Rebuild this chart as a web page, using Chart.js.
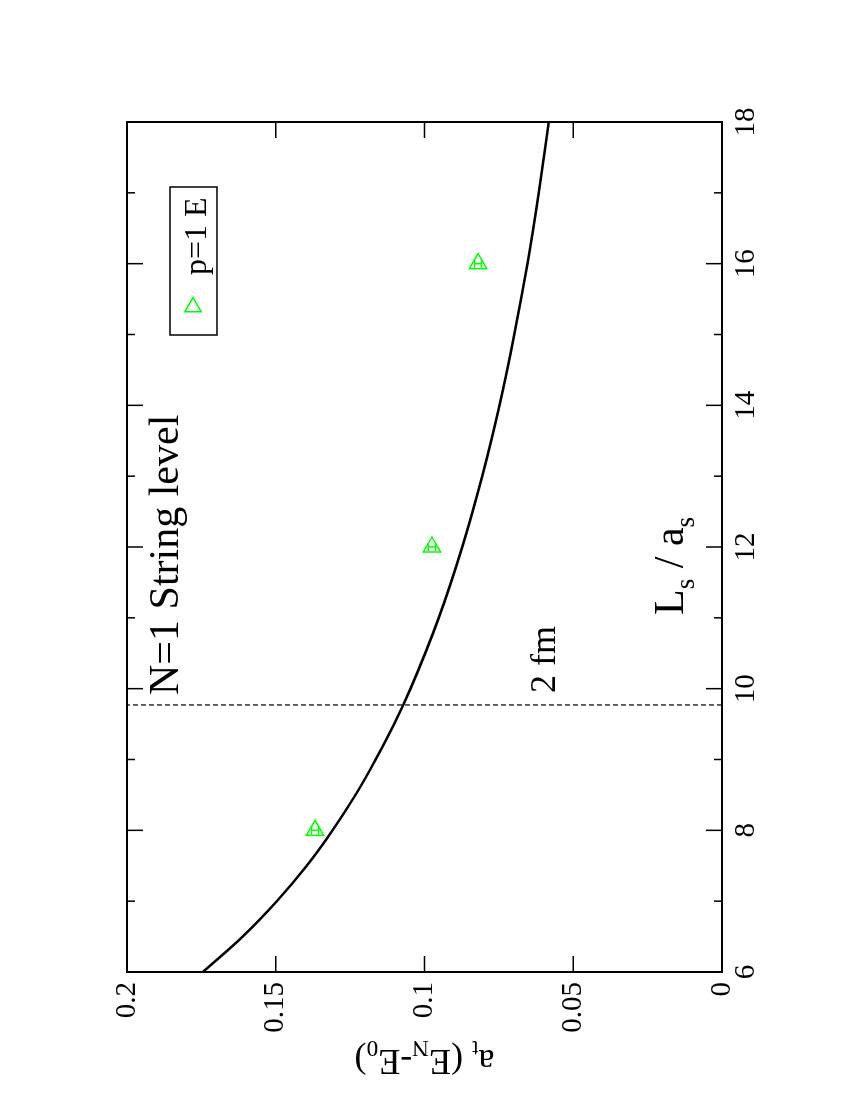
<!DOCTYPE html>
<html><head><meta charset="utf-8">
<script src="https://cdn.jsdelivr.net/npm/chart.js@4.4.1/dist/chart.umd.min.js"></script>
<style>
html,body{margin:0;padding:0;background:#fff;width:850px;height:1100px;overflow:hidden;font-family:'Liberation Serif',serif}
#wrap{position:absolute;left:0;top:1100px;width:1100px;height:850px;transform-origin:0 0;transform:rotate(-90deg)}
.pre{position:absolute;left:-9999px;top:0;font-family:'Liberation Serif';font-size:28px}
</style></head><body>
<span class="pre">0.15 N=1 String level</span>
<div id="wrap"><canvas id="c" width="1100" height="850"></canvas></div>
<script>
// fitted curve
const curveL = [6, 6.5, 7, 7.5, 8, 8.5, 9, 9.5, 10, 11, 12, 13, 14, 15, 16, 17, 18];
const curveE = [0.1745, 0.1611, 0.1496, 0.1396, 0.1309, 0.1232, 0.1164, 0.1102, 0.1047, 0.0952, 0.0873, 0.0806, 0.0748, 0.0698, 0.0654, 0.0616, 0.0582];
// data points p=1 E
const dataL = [8, 12, 16];
const dataE = [0.1368, 0.0975, 0.0820];
const dataErr = [0.0012, 0.0012, 0.0012];
// 2 fm marker line
const lineL = [9.77, 9.77];
const lineE = [0, 0.2];
// ticks
const xMajor = [6, 8, 10, 12, 14, 16, 18];
const xMinor = [7, 9, 11, 13, 15, 17];
const yMajor = [0, 0.05, 0.1, 0.15, 0.2];
const yTickLabels = ['0', '0.05', '0.1', '0.15', '0.2'];
const seriesLabel = 'p=1 E';

const SERIF = "'Liberation Serif', 'Times New Roman', serif";
const GREEN = '#00ff00';

function drawRich(ctx, parts, x, y, size) {
  let cx = x;
  parts.forEach(([t, m]) => {
    const fs = m ? size * 0.65 : size;
    ctx.font = fs + 'px ' + SERIF;
    ctx.fillText(t, cx, y + (m ? size * 0.25 : 0));
    cx += ctx.measureText(t).width;
  });
  return cx - x;
}
function richWidth(ctx, parts, size) {
  let w = 0;
  parts.forEach(([t, m]) => {
    ctx.font = (m ? size * 0.65 : size) + 'px ' + SERIF;
    w += ctx.measureText(t).width;
  });
  return w;
}

const deco = {
  id: 'deco',
  afterDatasetsDraw(chart) {
    const { ctx, chartArea: a, scales: { x, y } } = chart;
    ctx.save();
    // error bars
    ctx.strokeStyle = GREEN; ctx.lineWidth = 1.5;
    dataL.forEach((L, i) => {
      const px = x.getPixelForValue(L);
      const y1 = y.getPixelForValue(dataE[i] - dataErr[i]);
      const y2 = y.getPixelForValue(dataE[i] + dataErr[i]);
      ctx.beginPath();
      ctx.moveTo(px, y1); ctx.lineTo(px, y2);
      ctx.moveTo(px - 4, y1); ctx.lineTo(px + 4, y1);
      ctx.moveTo(px - 4, y2); ctx.lineTo(px + 4, y2);
      ctx.stroke();
    });
    // frame
    ctx.strokeStyle = '#000'; ctx.lineWidth = 2;
    ctx.strokeRect(a.left, a.top, a.right - a.left, a.bottom - a.top);
    // inward ticks
    ctx.lineWidth = 1.5;
    ctx.beginPath();
    const xt = (vals, len) => vals.forEach(v => {
      const p = x.getPixelForValue(v);
      ctx.moveTo(p, a.bottom); ctx.lineTo(p, a.bottom - len);
      ctx.moveTo(p, a.top); ctx.lineTo(p, a.top + len);
    });
    xt(xMajor, 16); xt(xMinor, 8);
    yMajor.forEach(v => {
      const p = y.getPixelForValue(v);
      ctx.moveTo(a.left, p); ctx.lineTo(a.left + 16, p);
      ctx.moveTo(a.right, p); ctx.lineTo(a.right - 16, p);
    });
    ctx.stroke();

    // texts
    ctx.fillStyle = '#000';
    ctx.textBaseline = 'alphabetic';
    ctx.textAlign = 'left';
    ctx.font = '42px ' + SERIF;
    ctx.fillText('N=1 String level', 405, 178);
    ctx.font = '36px ' + SERIF;
    ctx.fillText('2 fm', 407, 555);
    drawRich(ctx, [['L', 0], ['s', 1], [' / a', 0], ['s', 1]], 485, 683, 42);

    // y axis title (rotated)
    const tparts = [['a', 0], ['t', 1], [' (E', 0], ['N', 1], ['-E', 0], ['0', 1], [')', 0]];
    const tw = richWidth(ctx, tparts, 36);
    ctx.save();
    ctx.translate(50, (a.top + a.bottom) / 2);
    ctx.rotate(-Math.PI / 2);
    drawRich(ctx, tparts, -tw / 2, 0, 36);
    ctx.restore();

    // legend
    ctx.strokeStyle = '#000'; ctx.lineWidth = 1.5;
    ctx.strokeRect(765, 170, 148, 47);
    ctx.strokeStyle = GREEN; ctx.lineWidth = 1.5;
    const lx = 793, ly = 193, r = 9.5;
    ctx.beginPath();
    ctx.moveTo(lx + r, ly);
    ctx.lineTo(lx - r / 2, ly - r * Math.sqrt(3) / 2);
    ctx.lineTo(lx - r / 2, ly + r * Math.sqrt(3) / 2);
    ctx.closePath();
    ctx.stroke();
    ctx.fillStyle = '#000';
    ctx.font = '32px ' + SERIF;
    ctx.fillText(seriesLabel, 825, 206);
    ctx.restore();
  }
};

function make() {
  new Chart(document.getElementById('c').getContext('2d'), {
    type: 'scatter',
    data: {
      datasets: [
        { label: 'fit', data: curveL.map((v, i) => ({ x: v, y: curveE[i] })), showLine: true,
          borderColor: '#000', borderWidth: 2.5, pointRadius: 0, cubicInterpolationMode: 'monotone', fill: false },
        { label: '2 fm', data: lineL.map((v, i) => ({ x: v, y: lineE[i] })), showLine: true,
          borderColor: '#000', borderWidth: 1.2, borderDash: [5, 3], pointRadius: 0, fill: false },
        { label: seriesLabel, data: dataL.map((v, i) => ({ x: v, y: dataE[i] })), showLine: false,
          pointStyle: 'triangle', rotation: 90, pointRadius: 10, pointBorderWidth: 1.5,
          borderColor: GREEN, backgroundColor: 'rgba(0,0,0,0)', pointBackgroundColor: 'rgba(0,0,0,0)', pointBorderColor: GREEN }
      ]
    },
    options: {
      responsive: false, animation: false, devicePixelRatio: 1,
      layout: { padding: { top: 127, right: 122, left: 0, bottom: 0 } },
      plugins: { legend: { display: false }, tooltip: { enabled: false } },
      scales: {
        x: {
          type: 'linear', min: 6, max: 18,
          afterBuildTicks: s => { s.ticks = xMajor.map(v => ({ value: v })); },
          afterFit: s => { s.height = 128; },
          ticks: { color: '#000', font: { family: SERIF, size: 29 }, padding: 7, maxRotation: 0, minRotation: 0,
                   callback: v => String(v) },
          grid: { display: false, drawTicks: false }, border: { display: false }
        },
        y: {
          type: 'linear', min: 0, max: 0.2,
          afterBuildTicks: s => { s.ticks = yMajor.map(v => ({ value: v })); },
          afterFit: s => { s.width = 128; },
          ticks: { color: '#000', font: { family: SERIF, size: 29 }, padding: 10,
                   callback: (v, i) => yTickLabels[i] },
          grid: { display: false, drawTicks: false }, border: { display: false }
        }
      }
    },
    plugins: [deco]
  });
}
if (document.fonts && document.fonts.load) {
  Promise.all([document.fonts.load("29px 'Liberation Serif'"), document.fonts.load("42px 'Liberation Serif'")])
    .then(make, make);
} else { make(); }
</script>
</body></html>
